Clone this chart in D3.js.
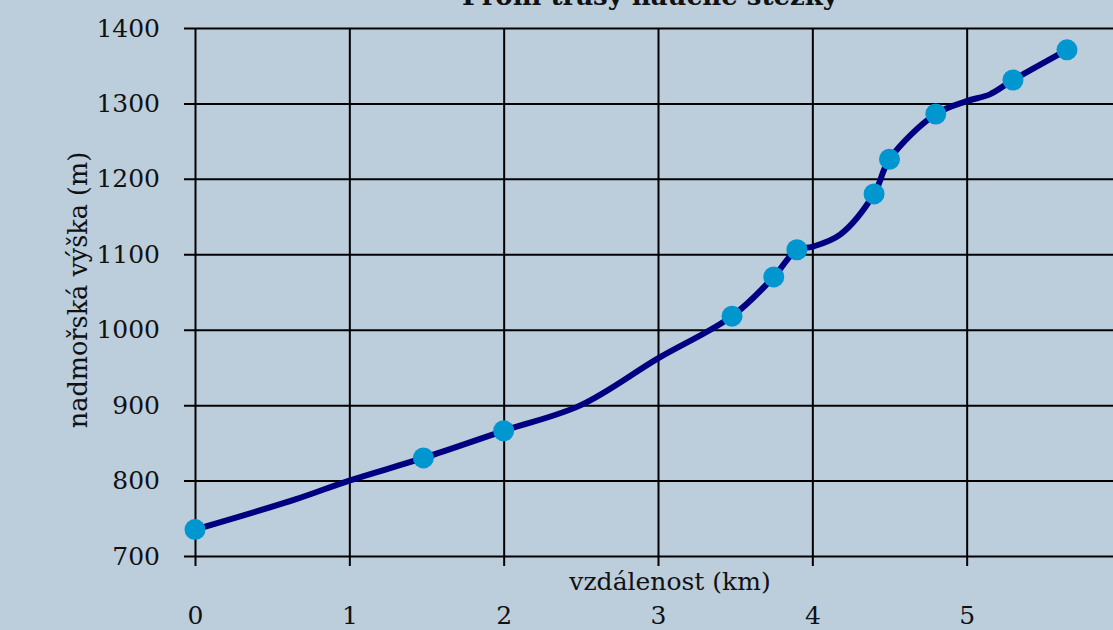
<!DOCTYPE html>
<html>
<head>
<meta charset="utf-8">
<script src="https://d3js.org/d3.v7.min.js"></script>
<style>
  html, body { margin: 0; padding: 0; background: #bccddc; overflow: hidden; }
  svg { display: block; }
  text { font-family: "DejaVu Serif", serif; fill: #111; }
</style>
</head>
<body>
<div id="chart"></div>
<script>
// trail profile: full line (incl. unmarked bends) and marked stops
const lineDistance  = [0, 0.65, 1, 1.48, 2, 2.5, 3, 3.48, 3.75, 3.9, 4.0, 4.18, 4.4, 4.5, 4.8, 5.0, 5.15, 5.3, 5.65];
const lineElevation = [735, 775, 800, 830, 866, 900, 962, 1018, 1070, 1106, 1110, 1126, 1180, 1226, 1286, 1303, 1312, 1331, 1371];
const stopDistance  = [0, 1.48, 2, 3.48, 3.75, 3.9, 4.4, 4.5, 4.8, 5.3, 5.65];
const stopElevation = [735, 830, 866, 1018, 1070, 1106, 1180, 1226, 1286, 1331, 1371];
const xTicks = [0, 1, 2, 3, 4, 5, 6];
const yTicks = [700, 800, 900, 1000, 1100, 1200, 1300, 1400];

const W = 1113, H = 630;
const margin = { left: 195, top: 28 };
const plotW = 926, plotH = 528;

const svg = d3.select('#chart').append('svg')
  .attr('width', W)
  .attr('height', H);

const x = d3.scaleLinear().domain([0, 6]).range([margin.left, margin.left + plotW]);
const y = d3.scaleLinear().domain([700, 1400]).range([margin.top + plotH, margin.top]);

// title (cut at the top)
svg.append('text')
  .attr('x', 650)
  .attr('y', 5)
  .attr('text-anchor', 'middle')
  .style('font-size', '26px')
  .style('font-weight', 'bold')
  .text('Profil trasy naučné stezky');

// horizontal grid + ticks
svg.append('g')
  .attr('transform', `translate(${margin.left},0)`)
  .call(d3.axisLeft(y).tickValues(yTicks).tickFormat(d3.format('d'))
    .tickSize(-(plotW + 20)).tickSizeOuter(0).tickPadding(35))
  .call(g => g.select('.domain').remove())
  .call(g => g.selectAll('.tick line')
    .attr('x1', -11)
    .attr('stroke', '#000')
    .attr('stroke-width', 2))
  .call(g => g.selectAll('.tick text')
    .style('font-family', '"DejaVu Serif", serif')
    .style('font-size', '25px')
    .attr('fill', '#111'));

// vertical grid + ticks
svg.append('g')
  .attr('transform', `translate(0,${margin.top + plotH})`)
  .call(d3.axisBottom(x).tickValues(xTicks).tickFormat(d3.format('d'))
    .tickSize(10).tickSizeOuter(0).tickPadding(40))
  .call(g => g.select('.domain').remove())
  .call(g => g.selectAll('.tick line')
    .attr('y1', -plotH)
    .attr('stroke', '#000')
    .attr('stroke-width', 2))
  .call(g => g.selectAll('.tick text')
    .style('font-family', '"DejaVu Serif", serif')
    .style('font-size', '25px')
    .attr('fill', '#111'));

// axis titles
svg.append('text')
  .attr('x', 670)
  .attr('y', 590)
  .attr('text-anchor', 'middle')
  .style('font-size', '25px')
  .text('vzdálenost (km)');

svg.append('text')
  .attr('transform', 'translate(87,290) rotate(-90)')
  .attr('text-anchor', 'middle')
  .style('font-size', '25.5px')
  .text('nadmořská výška (m)');

// profile line
const line = d3.line()
  .x(i => x(lineDistance[i]))
  .y(i => y(lineElevation[i]))
  .curve(d3.curveCatmullRom.alpha(0.5));

svg.append('path')
  .attr('d', line(d3.range(lineDistance.length)))
  .attr('fill', 'none')
  .attr('stroke', '#000080')
  .attr('stroke-width', 6)
  .attr('stroke-linecap', 'round');

// stops
svg.append('g').selectAll('circle')
  .data(d3.range(stopDistance.length))
  .enter()
  .append('circle')
  .attr('cx', i => x(stopDistance[i]))
  .attr('cy', i => y(stopElevation[i]))
  .attr('r', 10.5)
  .attr('fill', '#0096d0');
</script>
</body>
</html>
